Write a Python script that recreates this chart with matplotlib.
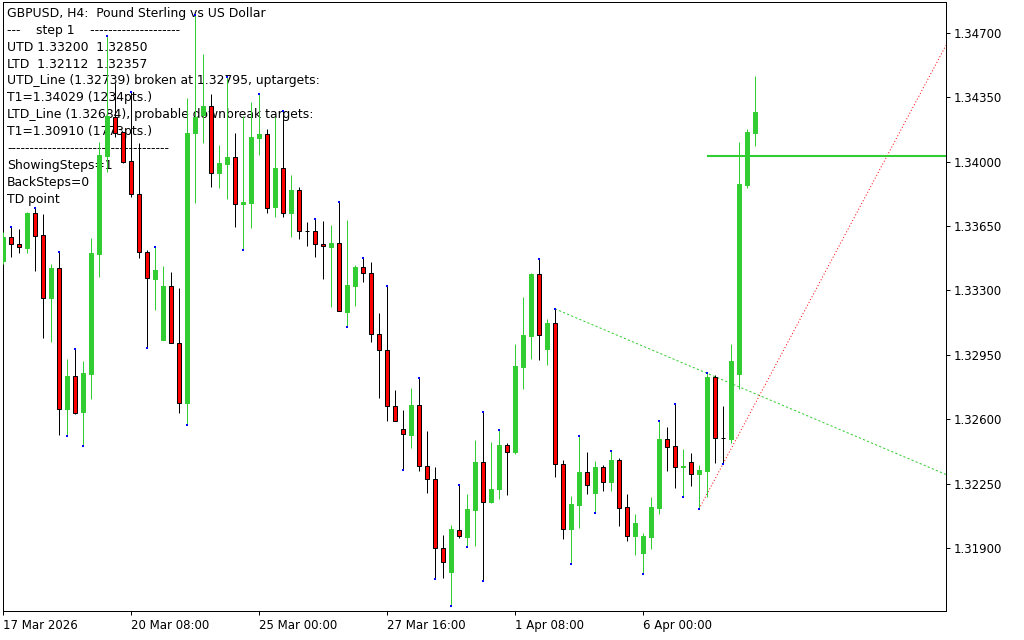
import matplotlib
matplotlib.use('Agg')
import matplotlib.pyplot as plt
import numpy as np

# GBPUSD H4 candles (first visible bar = 17 Mar 2026)
opens = [1.33462, 1.33589, 1.33551, 1.33533, 1.33720, 1.33600, 1.33258, 1.33421, 1.32657, 1.32834,
         1.32641, 1.32848, 1.33501, 1.34033, 1.34245, 1.34160, 1.34002, 1.33823, 1.33508, 1.33364,
         1.33031, 1.33324, 1.33013, 1.32690, 1.34155, 1.34254, 1.34303, 1.33940, 1.33989, 1.34024,
         1.33769, 1.33777, 1.34131, 1.34151, 1.33752, 1.33964, 1.33720, 1.33845, 1.33622, 1.33622,
         1.33551, 1.33538, 1.33557, 1.33185, 1.33326, 1.33426, 1.33394, 1.33062, 1.32977, 1.32670,
         1.32545, 1.32516, 1.32677, 1.32344, 1.32275, 1.31898, 1.31771, 1.31996, 1.31961, 1.32108,
         1.32366, 1.32152, 1.32221, 1.32460, 1.32424, 1.32886, 1.33054, 1.33390, 1.32984, 1.33123,
         1.32355, 1.32005, 1.32134, 1.32313, 1.32201, 1.32340, 1.32260, 1.32378, 1.32121, 1.31967,
         1.31874, 1.31961, 1.32119, 1.32493, 1.32455, 1.32343, 1.32366, 1.32304, 1.32320, 1.32830,
         1.32500, 1.32493, 1.32844, 1.33874, 1.34158]
highs = [1.33618, 1.33647, 1.33633, 1.33725, 1.33750, 1.33714, 1.33444, 1.33511, 1.32928, 1.32982,
         1.32917, 1.33584, 1.34106, 1.34684, 1.34430, 1.34163, 1.34377, 1.34100, 1.33520, 1.33538,
         1.33433, 1.33399, 1.33312, 1.34345, 1.34798, 1.34586, 1.34367, 1.34091, 1.34462, 1.34155,
         1.34249, 1.34323, 1.34371, 1.34178, 1.34245, 1.34276, 1.33928, 1.33861, 1.33672, 1.33687,
         1.33678, 1.33656, 1.33783, 1.33683, 1.33439, 1.33478, 1.33453, 1.33178, 1.33326, 1.32759,
         1.32650, 1.32770, 1.32826, 1.32536, 1.32339, 1.31971, 1.32025, 1.32243, 1.32192, 1.32487,
         1.32641, 1.32476, 1.32542, 1.32473, 1.33009, 1.33266, 1.33395, 1.33470, 1.33145, 1.33200,
         1.32378, 1.32183, 1.32511, 1.32422, 1.32375, 1.32350, 1.32429, 1.32389, 1.32194, 1.32085,
         1.31980, 1.32176, 1.32592, 1.32558, 1.32685, 1.32438, 1.32415, 1.32350, 1.32850, 1.32841,
         1.32672, 1.33009, 1.34107, 1.34178, 1.34468]
lows = [1.33444, 1.33481, 1.33506, 1.33502, 1.33408, 1.33040, 1.33022, 1.32514, 1.32509, 1.32627,
        1.32455, 1.32712, 1.33375, 1.33943, 1.34136, 1.33992, 1.33806, 1.33475, 1.32987, 1.33194,
        1.33031, 1.33013, 1.32632, 1.32569, 1.33774, 1.34104, 1.33864, 1.33856, 1.33797, 1.33647,
        1.33520, 1.33641, 1.34037, 1.33720, 1.33701, 1.33698, 1.33589, 1.33578, 1.33544, 1.33484,
        1.33364, 1.33212, 1.33187, 1.33103, 1.33217, 1.33345, 1.33018, 1.32718, 1.32592, 1.32589,
        1.32324, 1.32445, 1.32320, 1.32197, 1.31731, 1.31735, 1.31586, 1.31953, 1.31907, 1.31913,
        1.31722, 1.32146, 1.32165, 1.32188, 1.32409, 1.32764, 1.32928, 1.32922, 1.32895, 1.32288,
        1.31951, 1.31813, 1.32010, 1.32194, 1.32090, 1.32212, 1.32212, 1.32020, 1.31940, 1.31864,
        1.31759, 1.31895, 1.32085, 1.32320, 1.32228, 1.32179, 1.32237, 1.32112, 1.32179, 1.32360,
        1.32357, 1.32469, 1.32763, 1.33859, 1.34086]
closes = [1.33589, 1.33551, 1.33535, 1.33720, 1.33598, 1.33258, 1.33422, 1.32657, 1.32835, 1.32632,
          1.32851, 1.33504, 1.34037, 1.34250, 1.34158, 1.34000, 1.33825, 1.33507, 1.33366, 1.33411,
          1.33324, 1.33013, 1.32690, 1.34155, 1.34242, 1.34303, 1.33940, 1.33993, 1.34026, 1.33769,
          1.33780, 1.34133, 1.34151, 1.33751, 1.33964, 1.33720, 1.33846, 1.33622, 1.33621, 1.33551,
          1.33540, 1.33557, 1.33187, 1.33330, 1.33426, 1.33394, 1.33062, 1.32977, 1.32672, 1.32589,
          1.32518, 1.32677, 1.32344, 1.32274, 1.31898, 1.31822, 1.32003, 1.31964, 1.32112, 1.32368,
          1.32152, 1.32221, 1.32460, 1.32424, 1.32890, 1.33058, 1.33390, 1.33060, 1.33123, 1.32355,
          1.32005, 1.32139, 1.32313, 1.32244, 1.32340, 1.32260, 1.32378, 1.32119, 1.31967, 1.32034,
          1.31965, 1.32123, 1.32493, 1.32451, 1.32342, 1.32344, 1.32304, 1.32324, 1.32830, 1.32500,
          1.32499, 1.32917, 1.33879, 1.34162, 1.34272]

# TD points (fractal highs / lows)
td_high_bars = [1, 4, 7, 9, 13, 16, 19, 24, 28, 32, 35, 39, 42, 45, 48, 52, 57, 60, 62, 67,
                69, 72, 76, 82, 84, 88]
td_low_bars = [8, 10, 18, 23, 30, 43, 50, 54, 56, 58, 60, 71, 74, 80, 85, 87, 90]

# trend lines: (bar, price) pairs
utd_points = [(69, 1.33200), (88, 1.32850)]
ltd_points = [(87, 1.32112), (90, 1.32357)]
target_bar = 88
target_price = 1.34029

price_ticks = [1.31900, 1.32250, 1.32600, 1.32950, 1.33300, 1.33650, 1.34000, 1.34350, 1.34700]
date_bars = [0, 16, 32, 48, 64, 80]
date_labels = ['17 Mar 2026', '20 Mar 08:00', '25 Mar 00:00', '27 Mar 16:00', '1 Apr 08:00', '6 Apr 00:00']

comment_lines = [
    'GBPUSD, H4:  Pound Sterling vs US Dollar',
    '---    step 1    --------------------',
    'UTD 1.33200  1.32850',
    'LTD  1.32112  1.32357',
    'UTD_Line (1.32739) broken at 1.32795, uptargets:',
    'T1=1.34029 (1234pts.)',
    'LTD_Line (1.32684), probable downbreak targets:',
    'T1=1.30910 (1773pts.)',
    '------------------------------------',
    'ShowingSteps=1',
    'BackSteps=0',
    'TD point',
]

BULL = '#32cd32'
BEAR = '#ff0000'
PX = 0.72  # one pixel in points at dpi 100

o = np.array(opens)
h = np.array(highs)
l = np.array(lows)
c = np.array(closes)
x = np.arange(len(o))
up = c >= o

fig = plt.figure(figsize=(10.24, 6.4), dpi=100)
ax = fig.add_axes([3 / 1024, 29 / 640, 943 / 1024, 609 / 640])
xmax = 117.875
ax.set_xlim(0, xmax)
ax.set_ylim(1.315575, 1.348685)

# wicks
ax.vlines(x[up], l[up], h[up], color=BULL, lw=PX, zorder=3)
ax.vlines(x[~up], l[~up], h[~up], color='black', lw=PX, zorder=3)
# bodies
ax.bar(x[up], (c - o)[up], bottom=o[up], width=0.62, color=BULL, edgecolor=BULL,
       linewidth=PX, zorder=4)
ax.bar(x[~up], (o - c)[~up], bottom=c[~up], width=0.62, color=BEAR, edgecolor='black',
       linewidth=PX, zorder=4)

# TD points
ax.plot(td_high_bars, h[td_high_bars], ls='none', marker='s', ms=1.7, color='#0000ff',
        mew=0, zorder=5)
ax.plot(td_low_bars, l[td_low_bars], ls='none', marker='s', ms=1.7, color='#0000ff',
        mew=0, zorder=5)

# trend lines extended to the right edge
for pts, col, ls in [(utd_points, BULL, (0, (2.2, 2.2))), (ltd_points, BEAR, (0, (1, 2.2)))]:
    (b0, p0), (b1, p1) = pts
    slope = (p1 - p0) / (b1 - b0)
    ax.plot([b0, xmax], [p0, p0 + slope * (xmax - b0)], color=col, lw=PX, ls=ls, zorder=2)

ax.hlines(target_price, target_bar, xmax, color=BULL, lw=1.5, zorder=2)

# axes styling
for sp in ax.spines.values():
    sp.set_linewidth(PX)
    sp.set_color('black')
ax.yaxis.tick_right()
ax.set_yticks(price_ticks)
ax.set_yticklabels([f'{p:.5f}' for p in price_ticks])
ax.set_xticks(date_bars)
ax.set_xticklabels(date_labels, ha='left')
ax.tick_params(axis='both', direction='out', length=3, width=PX, color='black',
               labelsize=8.5, pad=2.5)

# comment block in the upper-left corner (drawn under the candles)
for i, line in enumerate(comment_lines):
    ax.text(7 / 1024, 1 - (13.3 + 16.9 * i) / 640, line, transform=fig.transFigure,
            fontsize=8.9, va='center', ha='left', color='black', zorder=1,
            family='DejaVu Sans')

fig.savefig('out.png', dpi=100)
